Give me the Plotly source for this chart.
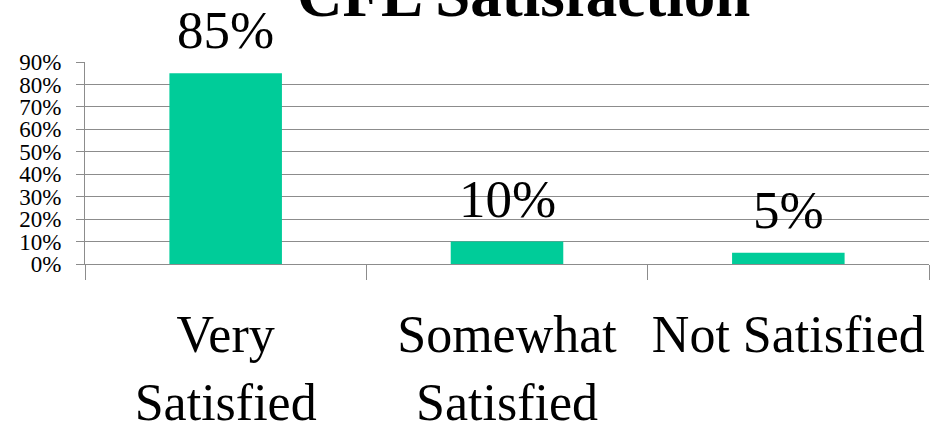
import plotly.graph_objects as go

categories = ["Very<br>Satisfied", "Somewhat<br>Satisfied", "Not Satisfied"]
values = [85, 10, 5]
value_labels = ["85%", "10%", "5%"]
y_ticks = [0, 10, 20, 30, 40, 50, 60, 70, 80, 90]
y_tick_labels = [f"{v}%" for v in y_ticks]
title_text = "<b>CFL Satisfaction</b>"

SERIF = "Liberation Serif, Times New Roman, serif"
GRID = "#8c8c8c"

fig = go.Figure()
fig.add_trace(go.Bar(
    x=categories, y=values, width=0.4,
    marker=dict(color="#00CC99", line=dict(width=0)),
    hoverinfo="skip",
))

for c, v, t in zip(categories, values, value_labels):
    fig.add_annotation(x=c, y=v, text=t, xref="x", yref="y",
                       showarrow=False, yanchor="bottom", yshift=12,
                       font=dict(family=SERIF, size=53, color="black"))

fig.add_annotation(x=0.520, y=1, xref="paper", yref="paper", text=title_text,
                   showarrow=False, xanchor="center", yanchor="middle", yshift=67,
                   font=dict(family=SERIF, size=63, color="black"))

fig.update_layout(
    width=930, height=424,
    margin=dict(l=85, r=1, t=62, b=160),
    plot_bgcolor="white", paper_bgcolor="white",
    showlegend=False,
    xaxis=dict(
        tickson="boundaries", ticks="outside", ticklen=15, tickcolor=GRID,
        tickwidth=1, showline=True, linecolor=GRID, linewidth=1,
        showgrid=False, tickangle=0, automargin=False, ticklabelstandoff=25,
        tickfont=dict(family=SERIF, size=52, color="black"),
    ),
    yaxis=dict(
        range=[0, 90], tickvals=y_ticks, ticktext=y_tick_labels,
        ticks="outside", ticklen=8, tickcolor=GRID, tickwidth=1,
        showline=True, linecolor=GRID, linewidth=1, automargin=False,
        showgrid=True, gridcolor=GRID, gridwidth=1, zeroline=False,
        ticklabelstandoff=10,
        tickfont=dict(family=SERIF, size=23, color="black"),
    ),
    bargap=0.6,
)

fig.write_html("out.html")
